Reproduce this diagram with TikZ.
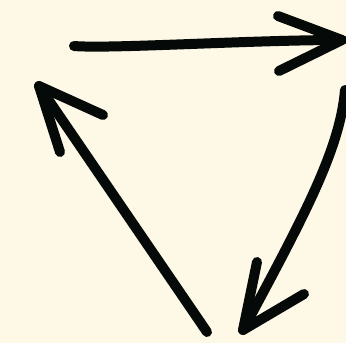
\documentclass[tikz,border=0pt]{standalone}
\usetikzlibrary{calc}
\definecolor{cycleCream}{HTML}{FEF8E7}
\definecolor{cycleInk}{HTML}{050A08}

\begin{document}
\begin{tikzpicture}[x=1pt,y=-1pt,
    stroke/.style={draw=cycleInk,line width=10pt,line cap=round,line join=round}]
  \fill[cycleCream] (0,0) rectangle (346,343);
  \clip (0,0) rectangle (346,343);
  % corners of the cycle
  \coordinate (topStart) at (74,46);
  \coordinate (topTip) at (342,40);
  \coordinate (rightStart) at (345,90);
  \coordinate (rightTip) at (243,330);
  \coordinate (leftStart) at (207,332);
  \coordinate (leftTip) at (39,86);
  % barb ends
  \coordinate (topBarbA) at (278,16);
  \coordinate (topBarbB) at (279,71);
  \coordinate (rightBarbA) at (257,262);
  \coordinate (rightBarbB) at (304,294);
  \coordinate (leftBarbA) at (103,115);
  \coordinate (leftBarbB) at (60,152);
  % top arrow
  \draw[stroke] (topStart) .. controls (110,49) and (250,40) .. (topTip);
  \draw[stroke] (topBarbA) -- (topTip) -- (topBarbB);
  % right arrow
  \draw[stroke] (rightStart) .. controls (340,150) and (303,218) .. (rightTip);
  \draw[stroke] (rightBarbA) -- (rightTip) -- (rightBarbB);
  % left arrow
  \draw[stroke] (leftStart) -- (leftTip);
  \draw[stroke] (leftBarbA) -- (leftTip) -- (leftBarbB);
\end{tikzpicture}
\end{document}
